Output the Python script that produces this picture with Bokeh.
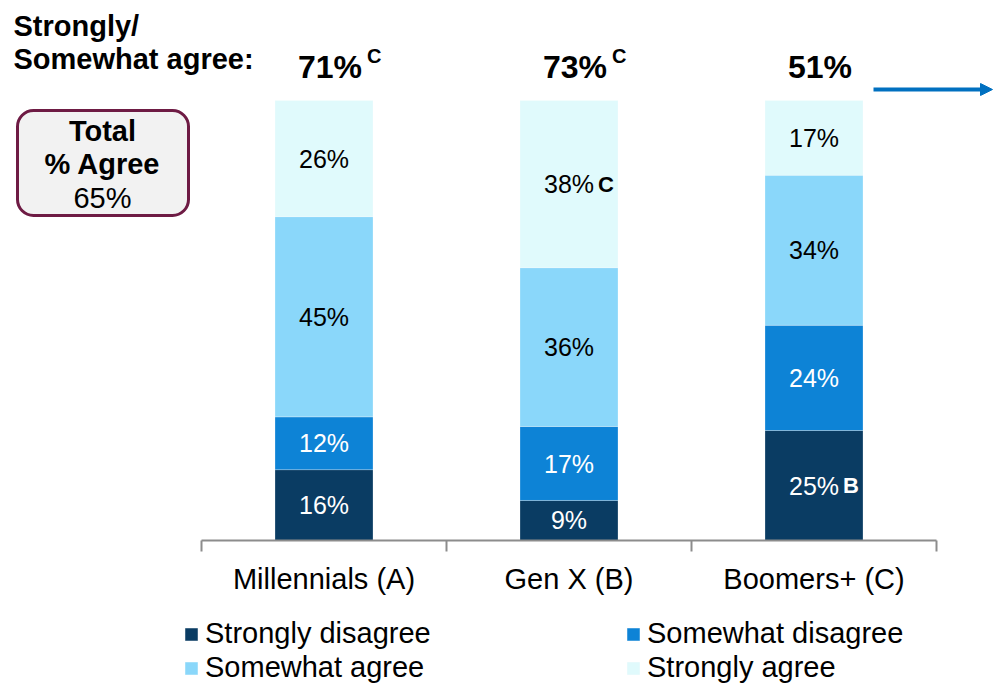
from bokeh.plotting import figure
from bokeh.models import Range1d, Legend, LegendItem, Arrow, NormalHead, ColumnDataSource, Label, BoxAnnotation
from bokeh.core.properties import value
from bokeh.embed import file_html
from bokeh.resources import INLINE
import numpy as np

# ---------------- data ----------------
categories = ["Millennials (A)", "Gen X (B)", "Boomers+ (C)"]
series = ["Strongly disagree", "Somewhat disagree", "Somewhat agree", "Strongly agree"]
# segment heights
strongly_disagree = [16.1, 9.1, 25.0]
somewhat_disagree = [12.0, 16.8, 23.9]
somewhat_agree = [45.5, 36.1, 34.1]
strongly_agree = [26.4, 38.0, 17.0]
# printed labels
label_strongly_disagree = ["16%", "9%", "25%"]
label_somewhat_disagree = ["12%", "17%", "24%"]
label_somewhat_agree = ["45%", "36%", "34%"]
label_strongly_agree = ["26%", "38%", "17%"]
sig_strongly_disagree = ["", "", "B"]
sig_somewhat_disagree = ["", "", ""]
sig_somewhat_agree = ["", "", ""]
sig_strongly_agree = ["", "C", ""]
total_agree = ["71%", "73%", "51%"]
total_sig = ["C", "C", ""]
overall_agree = "65%"
header_lines = ["Strongly/", "Somewhat agree:"]
box_lines = ["Total", "% Agree"]

# ---------------- style ----------------
colors = ["#0A3C63", "#0D83D6", "#8AD7FA", "#E0FAFC"]
label_colors = ["white", "white", "black", "black"]
FONT = "Liberation Sans"

W, H = 994, 683
# page-pixel -> data helpers for annotation placement
def px(xp):
    return (xp - 201) / 245.0

def py(yp):
    return (540 - yp) / 4.4

p = figure(width=W, height=H, output_backend="svg", toolbar_location=None,
           x_range=Range1d(px(0), px(W)), y_range=Range1d(py(H), py(0)),
           min_border=0, min_border_left=0, min_border_right=0,
           min_border_top=0, min_border_bottom=0)
p.axis.visible = False
p.grid.visible = False
p.outline_line_color = None
p.background_fill_color = "white"

xs = np.arange(len(categories)) + 0.5
values = [strongly_disagree, somewhat_disagree, somewhat_agree, strongly_agree]
labels = [label_strongly_disagree, label_somewhat_disagree, label_somewhat_agree, label_strongly_agree]
sigs = [sig_strongly_disagree, sig_somewhat_disagree, sig_somewhat_agree, sig_strongly_agree]

src = ColumnDataSource(dict(x=xs, **{s: v for s, v in zip(series, values)}))
renderers = p.vbar_stack(series, x="x", width=0.4, fill_color=colors,
                         line_color="white", line_alpha=0.25, line_width=1, source=src)

# segment labels
bottom = np.zeros(len(categories))
for i, vals in enumerate(values):
    vals = np.array(vals, dtype=float)
    centers = bottom + vals / 2
    p.text(x=xs, y=centers, text=labels[i],
           text_font=value(FONT), text_font_size=value("25px"),
           text_align="center", text_baseline="middle", text_color=label_colors[i])
    p.text(x=xs, y=centers, text=sigs[i], x_offset=29,
           text_font=value(FONT), text_font_size=value("22px"), text_font_style="bold",
           text_align="left", text_baseline="middle", text_color=label_colors[i])
    bottom = bottom + vals

# axis line and ticks
edges = np.arange(len(categories) + 1)
p.segment(x0=[edges[0]], y0=[0], x1=[edges[-1]], y1=[0], line_color="#8C8C8C", line_width=2)
p.segment(x0=edges, y0=np.zeros(len(edges)), x1=edges, y1=np.full(len(edges), py(551)),
          line_color="#8C8C8C", line_width=2)

# category labels
p.text(x=xs, y=np.full(len(xs), py(578)), text=categories,
       text_font=value(FONT), text_font_size=value("29px"),
       text_align="center", text_baseline="middle", text_color="black")

# totals on top
p.text(x=xs, y=np.full(len(xs), py(66)), text=total_agree, x_offset=6,
       text_font=value(FONT), text_font_size=value("32px"), text_font_style="bold",
       text_align="center", text_baseline="middle", text_color="black")
p.text(x=xs, y=np.full(len(xs), py(55)), text=total_sig, x_offset=43,
       text_font=value(FONT), text_font_size=value("20px"), text_font_style="bold",
       text_align="left", text_baseline="middle", text_color="black")

# header
for line, yy in zip(header_lines, [25, 58]):
    p.add_layout(Label(x=px(13), y=py(yy), text=line, text_font=FONT, text_font_size="29px",
                       text_font_style="bold", text_align="left", text_baseline="middle",
                       text_color="black"))

# total box
p.add_layout(BoxAnnotation(left=px(17), right=px(188), top=py(110), bottom=py(215),
                           fill_color="#F2F2F2", fill_alpha=1, line_color="#6E1B44",
                           line_width=3, line_alpha=1, border_radius=16))
for line, yy in zip(box_lines, [130, 163]):
    p.add_layout(Label(x=px(102), y=py(yy), text=line, text_font=FONT, text_font_size="29px",
                       text_font_style="bold", text_align="center", text_baseline="middle",
                       text_color="black"))
p.add_layout(Label(x=px(102), y=py(197), text=overall_agree, text_font=FONT,
                   text_font_size="29px", text_align="center", text_baseline="middle",
                   text_color="black"))

# arrow
p.add_layout(Arrow(end=NormalHead(size=12, fill_color="#0070C0", line_color="#0070C0"),
                   x_start=px(873), x_end=px(992), y_start=py(89), y_end=py(89),
                   line_color="#0070C0", line_width=4))

# legends (two columns)
def make_legend(idx, xloc):
    return Legend(items=[LegendItem(label=series[i], renderers=[renderers[i]]) for i in idx],
                  location=(xloc, -1), orientation="vertical",
                  glyph_width=16, glyph_height=16, label_standoff=6, label_height=31,
                  spacing=1, padding=0, margin=0,
                  label_text_font=FONT, label_text_font_size="29px", label_text_color="black",
                  background_fill_alpha=0, border_line_alpha=0)

p.add_layout(make_legend([0, 2], 183))
p.add_layout(make_legend([1, 3], 625))

open("out.html", "w").write(file_html(p, INLINE))
